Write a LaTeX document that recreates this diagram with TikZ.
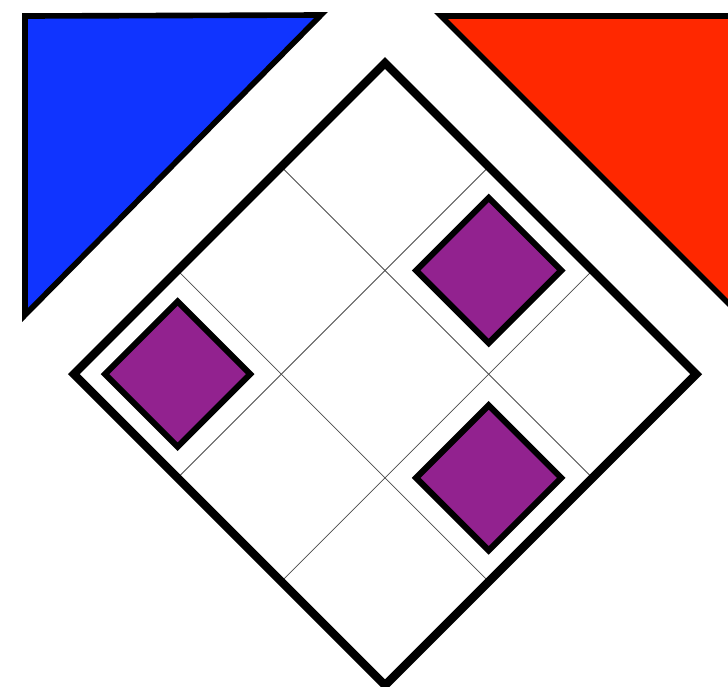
\documentclass[tikz,border=0pt]{standalone}
\usepackage{tikz}
\usepackage{xcolor}
\definecolor{TriBlue}{RGB}{16,52,255}
\definecolor{TriRed}{RGB}{255,40,0}
\definecolor{GemPurple}{RGB}{146,34,143}

\begin{document}
\begin{tikzpicture}[
  x=0.025cm, y=-0.025cm,
  tri/.style={draw=black, line width=4pt, line join=miter},
  board/.style={draw=black, line width=6pt, line join=miter},
  gridline/.style={draw=black!70, line width=0.6pt},
  gem/.style={draw=black, line width=4.3pt, line join=miter, fill=GemPurple}
]
  \useasboundingbox (0,0) rectangle (728,686);
  \clip (0,0) rectangle (728,686);

  % Corner triangles
  \filldraw[tri, fill=TriBlue] (25,16) -- (321,15) -- (25,315) -- cycle;
  \filldraw[tri, fill=TriRed] (441,16) -- (760,16) -- (760,335) -- cycle;

  % Board (3x3 grid, turned 45 degrees)
  \begin{scope}[shift={(385,63)}, rotate=-45, scale=146.67]
    \fill[white] (0,0) rectangle (3,3);
    \foreach \k in {1,2} {
      \draw[gridline] (\k,0) -- (\k,3);
      \draw[gridline] (0,\k) -- (3,\k);
    }
    \draw[board] (0,0) rectangle (3,3);

    % Pieces on the board
    \foreach \i/\j in {1/0, 0/2, 2/1}
      \draw[gem] (\i+0.15,\j+0.15) rectangle (\i+0.85,\j+0.85);
  \end{scope}
\end{tikzpicture}
\end{document}
